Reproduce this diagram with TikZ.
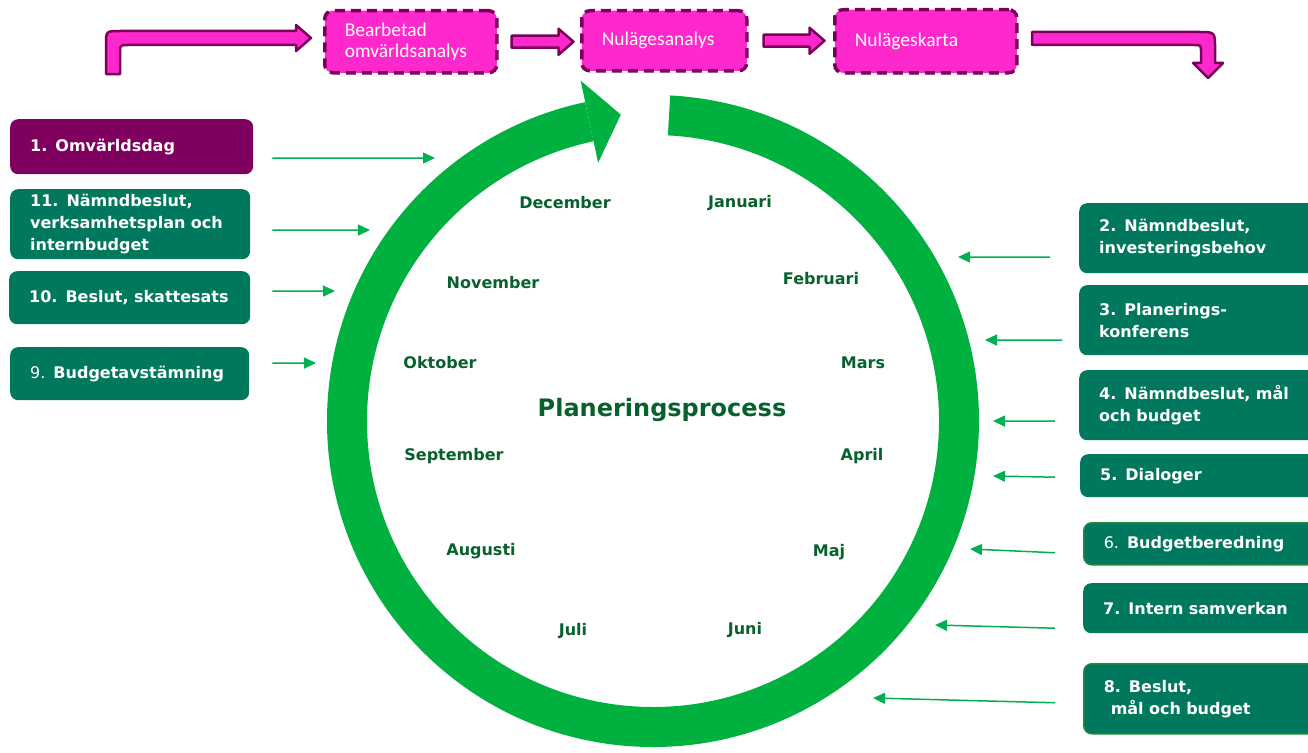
\documentclass[tikz,border=0pt]{standalone}
\usepackage{fontspec}
\setmainfont{DejaVu Sans}
\newfontfamily\rosafont{Carlito}
\usetikzlibrary{arrows.meta,calc}
\definecolor{pgron}{HTML}{00785D}
\definecolor{plila}{HTML}{800060}
\definecolor{prosa}{HTML}{FF28CC}
\definecolor{pmork}{HTML}{7A005C}
\definecolor{pring}{HTML}{00B140}
\definecolor{ppil}{HTML}{00B050}
\definecolor{pmanad}{HTML}{08612C}
\definecolor{pkant}{HTML}{1F8A3C}
\def\mauring{pring}
\def\maubox{pgron}
\def\mauchu{pmanad}

\begin{document}
\begin{tikzpicture}[x=1pt,y=-1pt,
	stepbox/.style={rectangle,rounded corners=8pt,fill=\maubox,text=white,anchor=north west,align=left,inner xsep=20pt,inner ysep=0pt,font=\bfseries\fontsize{16}{22}\selectfont},
	rosabox/.style={rectangle,rounded corners=8pt,draw=pmork,fill=prosa,line width=3.5pt,dash pattern=on 10pt off 6pt,text=white,anchor=north west,align=left,inner xsep=20pt,inner ysep=0pt,font=\rosafont\fontsize{19.5}{21}\selectfont},
	blockarrow/.style={draw=pmork,fill=prosa,line width=2.5pt,line join=round},
	link/.style={draw=ppil,line width=1.5pt,-{Triangle[length=12pt,width=11pt]}},
	manad/.style={text=\mauchu,font=\bfseries\fontsize{16}{19}\selectfont}]
	\useasboundingbox (0,0) rectangle (1308,752);
	\clip (0,0) rectangle (1308,752);
	% ring
	\begin{scope}[shift={(653,421)},yscale=-1]
		\draw[\mauring,line width=40pt] (87:306) arc[start angle=87,end angle=-258,radius=306];
		\fill[\mauring] (102:264) -- (102:348) -- (96:308) -- cycle;
	\end{scope}
	% top row
	\node[rosabox,text width=132pt,minimum height=62pt] (ra) at (323,9) {Bearbetad\\omvärldsanalys};
	\node[rosabox,text width=125pt,minimum height=60pt] (rb) at (580,9) {Nulägesanalys};
	\node[rosabox,text width=142pt,minimum height=63pt] (rc) at (833,8) {Nulägeskarta};
	\draw[blockarrow] (106,74) -- (106,45) .. controls (106,31) .. (120,31) -- (296,31) -- (296,25) -- (311,38) -- (296,51) -- (296,45) -- (128,45) .. controls (120,45) .. (120,53) -- (120,74) -- cycle;
	\draw[blockarrow,shift={(ra.east)}] (13,-6) -- (60,-6) -- (60,-13) -- (75,0) -- (60,13) -- (60,6) -- (13,6) -- cycle;
	\draw[blockarrow,shift={(rb.east)}] (15,-6) -- (61,-6) -- (61,-13) -- (76,0) -- (61,13) -- (61,6) -- (15,6) -- cycle;
	\draw[blockarrow] (1032,32) -- (1199,32) .. controls (1215,32) .. (1215,48) -- (1215,63) -- (1223,63) -- (1208,78) -- (1193,63) -- (1201,63) -- (1201,52) .. controls (1201,45) .. (1194,45) -- (1032,45) -- cycle;
	% left boxes
	\node[stepbox,fill=plila,text width=203pt,minimum height=55pt] (b1) at (10,119) {1. Omvärldsdag};
	\node[stepbox,text width=200pt,minimum height=70pt] (b11) at (10,189) {11. Nämndbeslut,\\verksamhetsplan och\\internbudget};
	\node[stepbox,text width=201pt,minimum height=53pt] (b10) at (9,271) {10. Beslut, skattesats};
	\node[stepbox,text width=199pt,minimum height=53pt] (b9) at (10,347) {{\mdseries 9.} Budgetavstämning};
	% right boxes
	\node[stepbox,text width=222pt,minimum height=70pt] (b2) at (1079,203) {2. Nämndbeslut,\\investeringsbehov};
	\node[stepbox,text width=222pt,minimum height=70pt] (b3) at (1079,285) {3. Planerings-\\konferens};
	\node[stepbox,text width=222pt,minimum height=70pt] (b4) at (1079,370) {4. Nämndbeslut, mål\\och budget};
	\node[stepbox,text width=220pt,minimum height=43pt] (b5) at (1080,454) {5. Dialoger};
	\node[stepbox,draw=pkant,line width=1.5pt,text width=217pt,minimum height=42pt] (b6) at (1083,522) {{\mdseries 6.} Budgetberedning};
	\node[stepbox,text width=217pt,minimum height=50pt] (b7) at (1083,583) {7. Intern samverkan};
	\node[stepbox,draw=pkant,line width=1.5pt,text width=217pt,minimum height=70pt] (b8) at (1083,663) {8. Beslut,\\\hspace*{7pt}mål och budget};
	% months
	\node[manad] (dec) at (565,203) {December};
	\node[manad] (jan) at (740,203) {Januari};
	\node[manad] (nov) at (493,283) {November};
	\node[manad] (feb) at (821,279) {Februari};
	\node[manad] (okt) at (440,363) {Oktober};
	\node[manad] (mar) at (863,363) {Mars};
	\node[manad] (sep) at (454,456) {September};
	\node[manad] (apr) at (862,456) {April};
	\node[manad] (aug) at (481,551) {Augusti};
	\node[manad] (maj) at (829,552) {Maj};
	\node[manad] (jul) at (573,631) {Juli};
	\node[manad] (jun) at (745,630) {Juni};
	\node[text=\mauchu,font=\bfseries\fontsize{24}{28}\selectfont] (titel) at (662,410) {Planeringsprocess};
	% links to the ring
	\coordinate (e1) at (435,158);
	\coordinate (e11) at (370,230);
	\coordinate (e10) at (335,291);
	\coordinate (e9) at (316,363);
	\coordinate (e2) at (958,257);
	\coordinate (e3) at (985,340);
	\coordinate (e4) at (993,421);
	\coordinate (e5) at (993,476);
	\coordinate (e6) at (970,549);
	\coordinate (e7) at (935,625);
	\coordinate (e8) at (873,698);
	\draw[link] ($(b1.east)+(19,11.5)$) -- (e1);
	\draw[link] ($(b11.east)+(22,6)$) -- (e11);
	\draw[link] ($(b10.east)+(22,-6.5)$) -- (e10);
	\draw[link] ($(b9.east)+(23,-10.5)$) -- (e9);
	\draw[link] ($(b2.west)+(-29,19)$) -- (e2);
	\draw[link] ($(b3.west)+(-17,20)$) -- (e3);
	\draw[link] ($(b4.west)+(-24,16)$) -- (e4);
	\draw[link] ($(b5.west)+(-25,1.5)$) -- (e5);
	\draw[link] ($(b6.west)+(-28,9)$) -- (e6);
	\draw[link] ($(b7.west)+(-28,20)$) -- (e7);
	\draw[link] ($(b8.west)+(-28,4)$) -- (e8);
\end{tikzpicture}
\end{document}
